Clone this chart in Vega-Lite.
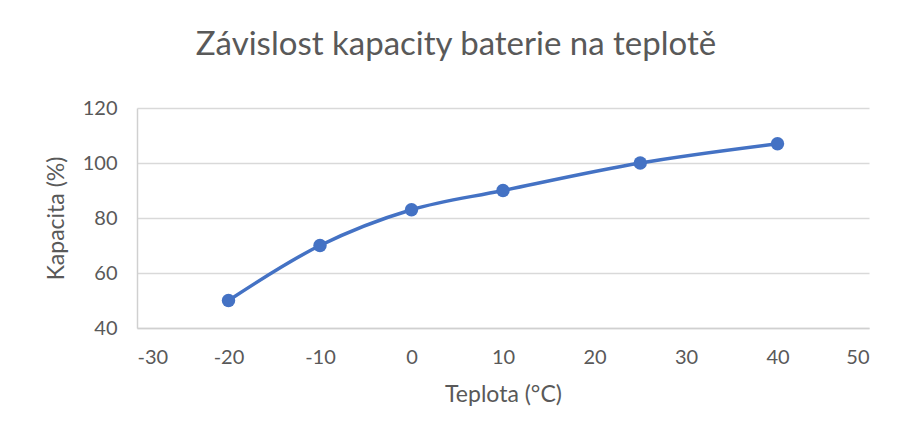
{
  "$schema": "https://vega.github.io/schema/vega-lite/v6.json",
  "width": 732,
  "height": 220,
  "autosize": {"type": "none"},
  "padding": {"left": 137, "top": 108, "right": 29, "bottom": 106},
  "background": "white",
  "title": {
    "text": "Závislost kapacity baterie na teplotě",
    "font": "Lato",
    "fontSize": 33,
    "fontWeight": "normal",
    "color": "#595959",
    "anchor": "middle",
    "dx": -47,
    "offset": 36
  },
  "data": {
    "values": [
      {"t": -20, "k": 50},
      {"t": -10, "k": 70},
      {"t": 0, "k": 83},
      {"t": 10, "k": 90},
      {"t": 25, "k": 100},
      {"t": 40, "k": 107}
    ]
  },
  "config": {
    "view": {"stroke": null},
    "axis": {
      "labelFont": "Lato",
      "titleFont": "Lato",
      "labelColor": "#595959",
      "titleColor": "#595959",
      "labelFontSize": 20,
      "titleFontSize": 23,
      "titleFontWeight": "normal",
      "ticks": false,
      "gridColor": "#d9d9d9",
      "gridWidth": 1.3,
      "domainColor": "#d0d0d0",
      "domainWidth": 1.5
    }
  },
  "encoding": {
    "x": {
      "field": "t",
      "type": "quantitative",
      "scale": {"domain": [-30, 50], "nice": false, "zero": false},
      "axis": {"values": [-30, -20, -10, 0, 10, 20, 30, 40, 50], "labelExpr": "replace(datum.label, '−', '-')", "grid": false, "title": "Teplota (°C)", "labelPadding": 19, "titlePadding": 16}
    },
    "y": {
      "field": "k",
      "type": "quantitative",
      "scale": {"domain": [40, 120], "nice": false, "zero": false},
      "axis": {"values": [40, 60, 80, 100, 120], "title": "Kapacita (%)", "labelPadding": 20, "titlePadding": 14}
    }
  },
  "layer": [
    {"mark": {"type": "line", "color": "#4472C4", "strokeWidth": 3.5, "interpolate": "catmull-rom"}},
    {"mark": {"type": "point", "filled": true, "opacity": 1, "color": "#4472C4", "size": 180}}
  ]
}
